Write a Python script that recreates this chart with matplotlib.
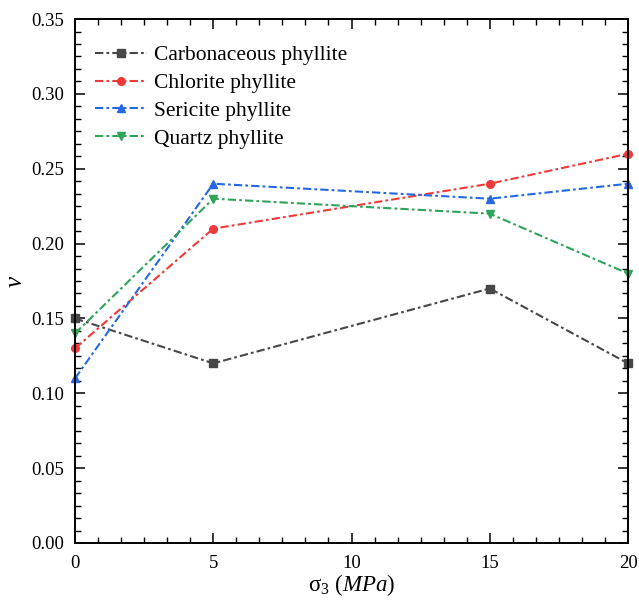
import numpy as np
import matplotlib
matplotlib.use('Agg')
import matplotlib.pyplot as plt
from matplotlib.ticker import MultipleLocator, AutoMinorLocator

plt.rcParams['font.family'] = ['Liberation Serif', 'DejaVu Serif']
plt.rcParams['mathtext.fontset'] = 'custom'
plt.rcParams['mathtext.rm'] = 'Liberation Serif'
plt.rcParams['mathtext.it'] = 'Liberation Serif:italic'

sigma3 = [0, 5, 15, 20]
carbonaceous = [0.15, 0.12, 0.17, 0.12]
chlorite = [0.13, 0.21, 0.24, 0.26]
sericite = [0.11, 0.24, 0.23, 0.24]
quartz = [0.14, 0.23, 0.22, 0.18]

names = ['Carbonaceous phyllite', 'Chlorite phyllite', 'Sericite phyllite', 'Quartz phyllite']
colors = ['#474747', '#f03a3a', '#2468e6', '#2ea35a']
markers = ['s', 'o', '^', 'v']

fig = plt.figure(figsize=(6.39, 6.05), dpi=100)
ax = fig.add_axes([0.1174, 0.1025, 0.8654, 0.866])

for y, name, c, m in zip([carbonaceous, chlorite, sericite, quartz], names, colors, markers):
    ax.plot(sigma3, y, color=c, marker=m, markersize=5.5, linewidth=1.5,
            dashes=(4.0, 1.5, 1.3, 1.5), label=name, clip_on=False)

ax.set_xlim(0, 20)
ax.set_ylim(0, 0.35)
ax.xaxis.set_major_locator(MultipleLocator(5))
ax.yaxis.set_major_locator(MultipleLocator(0.05))
ax.xaxis.set_minor_locator(AutoMinorLocator(6))
ax.yaxis.set_minor_locator(AutoMinorLocator(6))
ax.yaxis.set_major_formatter(plt.FormatStrFormatter('%.2f'))
ax.tick_params(which='both', direction='in', top=True, right=True, labelsize=13.5)
ax.tick_params(which='major', length=7.5, width=1.1)
ax.tick_params(which='minor', length=4.5, width=1)
ax.tick_params(axis='x', pad=9)
ax.tick_params(axis='y', pad=8)
for s in ax.spines.values():
    s.set_linewidth(1.4)

ax.set_xlabel(r'σ$_3$ ($\mathit{MPa}$)', fontsize=16.5, labelpad=0)
ax.set_ylabel(r'$\mathit{v}$', fontsize=18)
ax.yaxis.set_label_coords(-0.087, 0.5)

ax.legend(loc='upper left', bbox_to_anchor=(0, 0.989), frameon=False, fontsize=15.5,
          handlelength=2.4, labelspacing=0.36, borderaxespad=0.55, borderpad=0.4,
          handletextpad=0.3)

fig.savefig('out.png', dpi=100)
